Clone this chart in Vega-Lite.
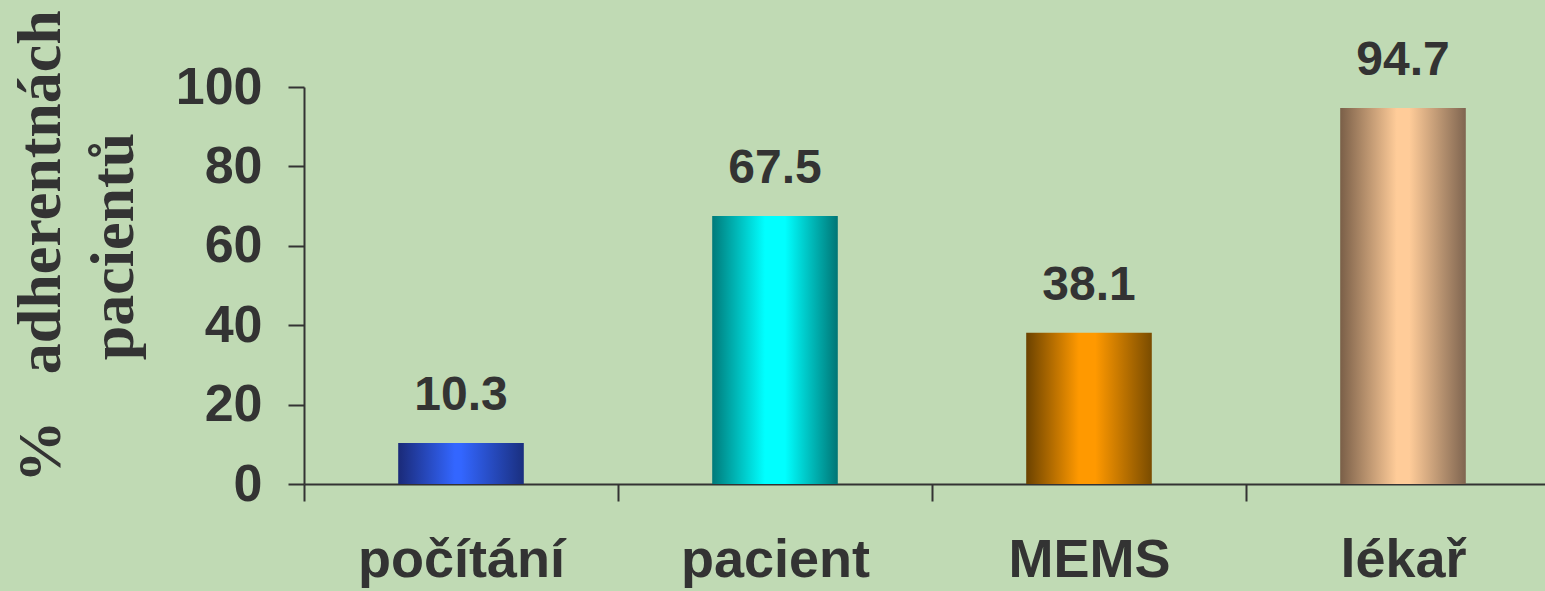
{
  "$schema": "https://vega.github.io/schema/vega-lite/v6.json",
  "width": 1256,
  "height": 397,
  "autosize": {"type": "none"},
  "padding": {"left": 304, "top": 87, "right": 0, "bottom": 107},
  "background": "#c0dab4",
  "config": {"view": {"stroke": null}},
  "data": {
    "values": [
      {"method": "počítání", "pct": 10.3},
      {"method": "pacient", "pct": 67.5},
      {"method": "MEMS", "pct": 38.1},
      {"method": "lékař", "pct": 94.7}
    ]
  },
  "encoding": {
    "x": {
      "field": "method",
      "type": "nominal",
      "sort": null,
      "scale": {"paddingInner": 0, "paddingOuter": 0},
      "axis": {
        "title": null,
        "labelAngle": 0,
        "tickBand": "extent",
        "domainColor": "#333333",
        "domainWidth": 2,
        "tickColor": "#333333",
        "tickWidth": 2,
        "tickSize": 17,
        "labelFont": "Liberation Sans",
        "labelFontWeight": "bold",
        "labelFontSize": 54,
        "labelColor": "#333333",
        "labelBaseline": "alphabetic",
        "labelPadding": 75,
        "labelLimit": 0,
        "grid": false
      }
    },
    "y": {
      "field": "pct",
      "type": "quantitative",
      "scale": {"domain": [0, 100], "nice": false},
      "axis": {
        "values": [0, 20, 40, 60, 80, 100],
        "grid": false,
        "domainColor": "#333333",
        "domainWidth": 2,
        "tickColor": "#333333",
        "tickWidth": 2,
        "tickSize": 16,
        "labelFont": "Liberation Sans",
        "labelFontWeight": "bold",
        "labelFontSize": 52,
        "labelColor": "#333333",
        "labelPadding": 26,
        "title": ["%\u00a0\u00a0\u00a0adherentnách", "pacientů"],
        "titleFont": "Liberation Serif",
        "titleFontSize": 62,
        "titleFontWeight": "bold",
        "titleColor": "#333333",
        "titleAngle": -90,
        "titleAlign": "center",
        "titleBaseline": "alphabetic",
        "titleLineHeight": 73,
        "titleX": -245,
        "titleY": 159
      }
    }
  },
  "layer": [
    {
      "transform": [{"filter": "datum.method === 'počítání'"}],
      "mark": {
        "type": "bar",
        "width": {"band": 0.4},
        "fill": {
          "gradient": "linear", "x1": 0, "x2": 1, "y1": 0, "y2": 0,
          "stops": [
            {"offset": 0, "color": "#1a2a78"},
            {"offset": 0.45, "color": "#3366ff"},
            {"offset": 0.5, "color": "#3366ff"},
            {"offset": 1, "color": "#1a2f7f"}
          ]
        }
      }
    },
    {
      "transform": [{"filter": "datum.method === 'pacient'"}],
      "mark": {
        "type": "bar",
        "width": {"band": 0.4},
        "fill": {
          "gradient": "linear", "x1": 0, "x2": 1, "y1": 0, "y2": 0,
          "stops": [
            {"offset": 0, "color": "#007a7a"},
            {"offset": 0.42, "color": "#00ffff"},
            {"offset": 0.58, "color": "#00ffff"},
            {"offset": 1, "color": "#007575"}
          ]
        }
      }
    },
    {
      "transform": [{"filter": "datum.method === 'MEMS'"}],
      "mark": {
        "type": "bar",
        "width": {"band": 0.4},
        "fill": {
          "gradient": "linear", "x1": 0, "x2": 1, "y1": 0, "y2": 0,
          "stops": [
            {"offset": 0, "color": "#6b4200"},
            {"offset": 0.42, "color": "#ff9900"},
            {"offset": 0.55, "color": "#ff9900"},
            {"offset": 1, "color": "#7a4c00"}
          ]
        }
      }
    },
    {
      "transform": [{"filter": "datum.method === 'lékař'"}],
      "mark": {
        "type": "bar",
        "width": {"band": 0.4},
        "fill": {
          "gradient": "linear", "x1": 0, "x2": 1, "y1": 0, "y2": 0,
          "stops": [
            {"offset": 0, "color": "#7a5f48"},
            {"offset": 0.45, "color": "#ffcc99"},
            {"offset": 0.55, "color": "#ffcc99"},
            {"offset": 1, "color": "#7f6550"}
          ]
        }
      }
    },
    {
      "mark": {
        "type": "text",
        "baseline": "alphabetic",
        "dy": -33,
        "font": "Liberation Sans",
        "fontWeight": "bold",
        "fontSize": 48,
        "color": "#333333"
      },
      "encoding": {
        "text": {"field": "pct", "type": "quantitative", "format": ".1f"}
      }
    }
  ]
}
